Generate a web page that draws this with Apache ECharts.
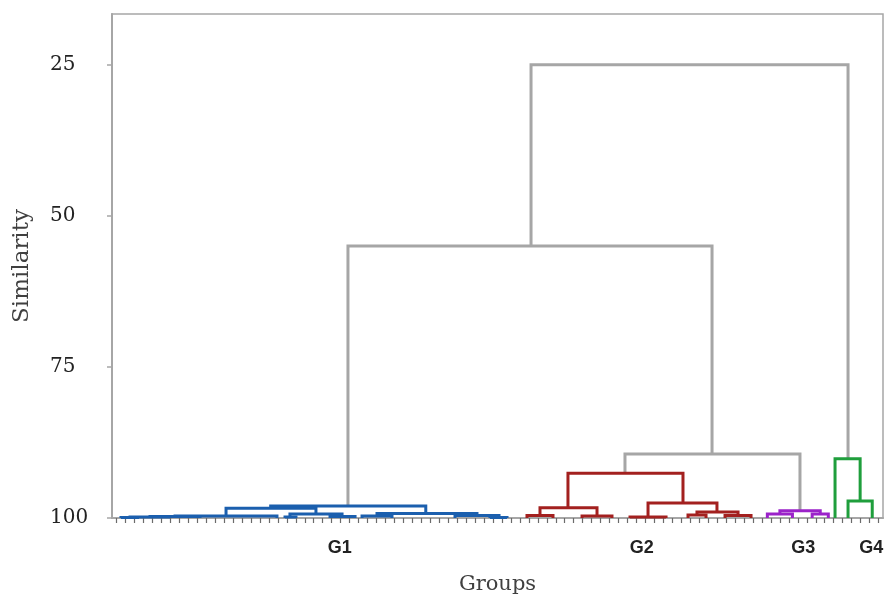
<!DOCTYPE html>
<html>
<head>
<meta charset="utf-8">
<script src="https://cdn.jsdelivr.net/npm/echarts@6/dist/echarts.min.js"></script>
<style>
  html, body { margin: 0; padding: 0; background: #fff; }
  #chart { width: 885px; height: 598px; }
</style>
</head>
<body>
<div id="chart"></div>
<script>
// leaf slots along the bottom axis
const leafCount = 86;
const yTicks = [25, 50, 75, 100];
const groupNames = ["G1", "G2", "G3", "G4"];
const groupCenters = [24.9, 58.6, 76.6, 84.2];

// one link = [left x, right x, join similarity, left foot, right foot]
const rootLinks = [
  [46.24, 81.6, 25.0, 55.0, 90.2],
  [25.82, 66.43, 55.0, 98.0, 89.4],
  [56.72, 76.24, 89.4, 92.6, 98.8]
];
const g1Links = [
  [17.2, 34.5, 98.0, 98.4, 99.25],
  [12.22, 22.25, 98.4, 99.67, 99.35],
  [6.53, 17.9, 99.67, 99.75, 100],
  [3.74, 9.32, 99.75, 99.83, 100],
  [1.51, 5.97, 99.83, 99.92, 100],
  [0.5, 2.51, 99.92, 100, 100],
  [19.35, 25.16, 99.35, 99.83, 99.75],
  [18.8, 20.02, 99.83, 100, 100],
  [23.82, 26.61, 99.75, 100, 100],
  [29.06, 40.21, 99.25, 99.67, 99.6],
  [27.39, 30.73, 99.67, 100, 100],
  [37.76, 42.67, 99.6, 100, 99.92],
  [41.66, 43.56, 99.92, 100, 100]
];
const g2Links = [
  [50.36, 63.19, 92.6, 98.3, 97.5],
  [47.24, 53.6, 98.3, 99.6, 99.67],
  [45.79, 48.69, 99.6, 100, 100],
  [51.93, 55.27, 99.67, 100, 100],
  [59.29, 66.98, 97.5, 99.83, 99.0],
  [57.28, 61.3, 99.83, 100, 100],
  [64.75, 69.33, 99.0, 99.5, 99.6],
  [63.75, 65.76, 99.5, 100, 100],
  [67.88, 70.78, 99.6, 100, 100]
];
const g3Links = [
  [74.0, 78.5, 98.8, 99.35, 99.35],
  [72.6, 75.4, 99.35, 100, 100],
  [77.6, 79.4, 99.35, 100, 100]
];
const g4Links = [
  [80.15, 82.95, 90.2, 100, 97.2],
  [81.6, 84.3, 97.2, 100, 100]
];

const leafTicks = [];
for (let i = 0; i < leafCount; i++) leafTicks.push(i);

// U shaped link drawn through the axes
function linkSeries(links, color) {
  return {
    type: "custom",
    silent: true,
    renderItem: function (params, api) {
      const a = api.coord([api.value(0), api.value(3)]);
      const b = api.coord([api.value(0), api.value(2)]);
      const c = api.coord([api.value(1), api.value(2)]);
      const d = api.coord([api.value(1), api.value(4)]);
      return {
        type: "polyline",
        shape: { points: [a, b, c, d] },
        style: { stroke: color, lineWidth: 3, fill: null }
      };
    },
    encode: { x: [0, 1], y: [2, 3, 4] },
    data: links
  };
}

const chart = echarts.init(document.getElementById("chart"));
chart.setOption({
  animation: false,
  grid: {
    left: 112, right: 2, top: 14, bottom: 80,
    outerBoundsMode: "none",
    show: true, borderColor: "#a6a6a6", borderWidth: 1.5
  },
  xAxis: {
    type: "value",
    min: -0.5,
    max: leafCount - 0.5,
    name: "Groups",
    nameLocation: "middle",
    nameGap: 56,
    nameTextStyle: { fontFamily: "DejaVu Serif", fontSize: 21, color: "#404040" },
    splitLine: { show: false },
    axisLine: { onZero: false, lineStyle: { color: "#a6a6a6", width: 2 } },
    axisTick: {
      customValues: leafTicks,
      length: 5,
      lineStyle: { color: "#6b6b6b", width: 1.2 }
    },
    axisLabel: {
      customValues: groupCenters,
      margin: 21,
      fontFamily: "Liberation Sans",
      fontWeight: "bold",
      fontSize: 18,
      color: "#222",
      formatter: function (val) {
        let k = 0;
        groupCenters.forEach(function (c, i) {
          if (Math.abs(c - val) < Math.abs(groupCenters[k] - val)) k = i;
        });
        return groupNames[k];
      }
    }
  },
  yAxis: {
    type: "value",
    inverse: true,
    min: 16.6,
    max: 100,
    name: "Similarity",
    nameLocation: "middle",
    nameRotate: 90,
    nameGap: 78,
    nameTextStyle: { fontFamily: "DejaVu Serif", fontSize: 23, color: "#404040" },
    splitLine: { show: false },
    axisLine: { show: true, onZero: false, lineStyle: { color: "#a6a6a6", width: 2 } },
    axisTick: {
      customValues: yTicks,
      length: 5,
      lineStyle: { color: "#a6a6a6", width: 1.5 }
    },
    axisLabel: {
      customValues: yTicks,
      margin: 62,
      align: "left",
      fontFamily: "DejaVu Serif",
      fontSize: 20,
      color: "#222"
    }
  },
  series: [
    linkSeries(rootLinks, "#a6a6a6"),
    linkSeries(g1Links, "#1b5fae"),
    linkSeries(g2Links, "#a3201f"),
    linkSeries(g3Links, "#9b22c9"),
    linkSeries(g4Links, "#1f9e3c")
  ]
});
</script>
</body>
</html>
